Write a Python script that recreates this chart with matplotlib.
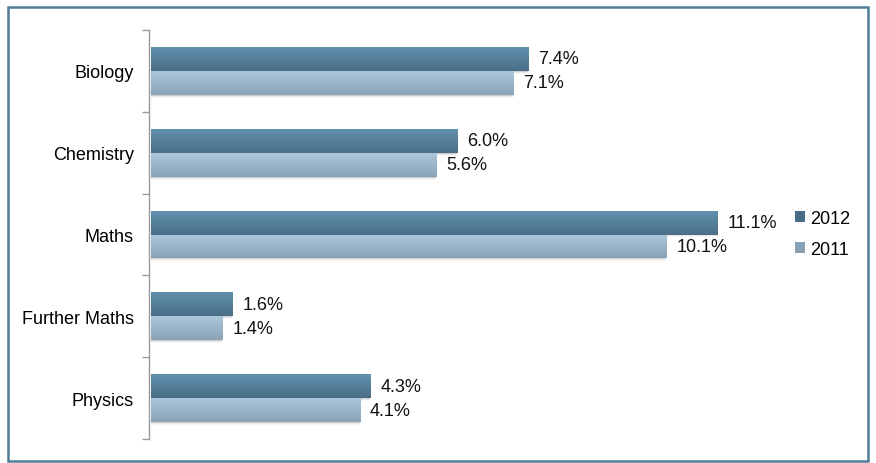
import matplotlib
matplotlib.use("Agg")
import matplotlib.pyplot as plt
import numpy as np
from matplotlib.patches import Rectangle, Patch
from matplotlib.colors import LinearSegmentedColormap

plt.rcParams["font.family"] = ["Liberation Sans", "DejaVu Sans"]

categories = ["Biology", "Chemistry", "Maths", "Further Maths", "Physics"]
series_names = ["2012", "2011"]
values_2012 = [7.4, 6.0, 11.1, 1.6, 4.3]
values_2011 = [7.1, 5.6, 10.1, 1.4, 4.1]

dark_top, dark_bot = "#6190ad", "#4a6e87"
light_top, light_bot = "#abc7db", "#8aa2b5"

fig = plt.figure(figsize=(8.76, 4.64), dpi=100)
W, H = 876, 464
ax = fig.add_axes([149 / W, 1 - 440 / H, 614 / W, 409 / H])

n = len(categories)
y = np.arange(n)
h = 0.292
FS = 13


def grad_bar(bars, ctop, cbot):
    cmap = LinearSegmentedColormap.from_list("g", [ctop, cbot])
    grad = np.linspace(0, 1, 64).reshape(-1, 1)
    for b in bars:
        x0, y0 = b.get_x(), b.get_y()
        w, hh = b.get_width(), b.get_height()
        # soft shadow below
        for k, a in enumerate([0.10, 0.06, 0.03]):
            sh = Rectangle((x0, y0 + hh), w, 0.012 * (k + 1), facecolor="#000000", alpha=a,
                           edgecolor="none", zorder=1)
            ax.add_patch(sh)
        im = ax.imshow(grad, cmap=cmap, aspect="auto",
                       extent=(x0, x0 + w, y0 + hh, y0), zorder=2, interpolation="bilinear")
        im.set_clip_path(b)
        b.set_facecolor("none")


bars12 = ax.barh(y - h / 2, values_2012, height=h, color=dark_top, edgecolor="none", zorder=2,
                 label=series_names[0])
bars11 = ax.barh(y + h / 2, values_2011, height=h, color=light_top, edgecolor="none", zorder=2,
                 label=series_names[1])
grad_bar(bars12, dark_top, dark_bot)
grad_bar(bars11, light_top, light_bot)
ax.set_xlim(-0.03, 12)
ax.set_ylim(n - 0.5, -0.5)

for yi, v in zip(y - h / 2, values_2012):
    ax.text(v + 0.2, yi, f"{v:.1f}%", va="center", ha="left", fontsize=FS, color="#111111")
for yi, v in zip(y + h / 2, values_2011):
    ax.text(v + 0.2, yi, f"{v:.1f}%", va="center", ha="left", fontsize=FS, color="#111111")

ax.set_yticks(y)
ax.set_yticklabels(categories, fontsize=FS)
ax.tick_params(axis="y", which="major", length=0, pad=11)
ax.set_yticks(np.arange(-0.5, n, 1.0), minor=True)
ax.tick_params(axis="y", which="minor", length=5, color="#999999", width=1)
ax.set_xticks([])
for s in ["top", "right", "bottom"]:
    ax.spines[s].set_visible(False)
ax.spines["left"].set_color("#999999")
ax.spines["left"].set_linewidth(1.0)

# legend
handles = [Patch(facecolor=dark_bot, edgecolor="none"), Patch(facecolor=light_bot, edgecolor="none")]
fig.legend(handles, series_names, loc="center left", bbox_to_anchor=(795 / W, 1 - 235 / H),
           frameon=False, fontsize=FS, handlelength=0.55, handleheight=0.55, handletextpad=0.3,
           labelspacing=0.75, borderpad=0, borderaxespad=0)

# outer border
fig.patches.append(Rectangle((8 / W, 2 / H), 860 / W, 454 / H, transform=fig.transFigure,
                             fill=False, edgecolor="#4f7d99", linewidth=1.8))

fig.savefig("out.png", dpi=100)
